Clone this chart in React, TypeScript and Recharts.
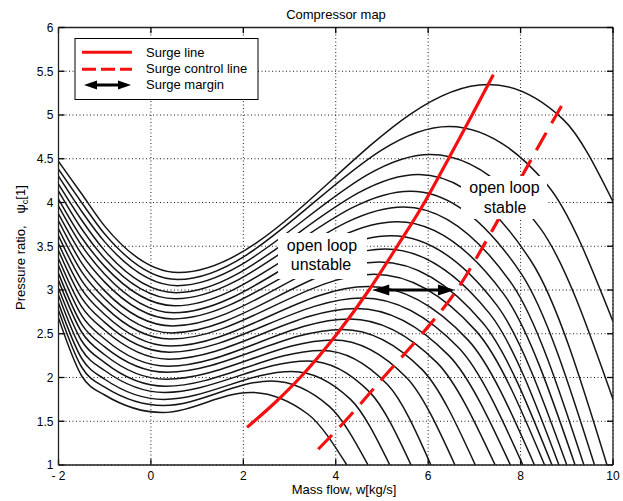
import React from "react";
import { CartesianGrid, Line, LineChart, ReferenceLine, XAxis, YAxis } from "recharts";

const xTicks = [-2, 0, 2, 4, 6, 8, 10];
const xTickLabels = ["- 2", "0", "2", "4", "6", "8", "10"];
const yTicks = [1, 1.5, 2, 2.5, 3, 3.5, 4, 4.5, 5, 5.5, 6];
const yTickLabels = ["1", "1.5", "2", "2.5", "3", "3.5", "4", "4.5", "5", "5.5", "6"];

// speed lines, from the lowest (index 0) to the highest (index 21)
const psiAtMinus2 = [2.68, 2.77, 2.85, 2.94, 3.02, 3.11, 3.19, 3.28, 3.36, 3.45, 3.53, 3.62, 3.7, 3.79, 3.87, 3.96, 4.04, 4.13, 4.21, 4.3, 4.38, 4.47];
const psiAtMinus15 = [2.02, 2.12, 2.22, 2.32, 2.42, 2.52, 2.61, 2.71, 2.81, 2.91, 3.01, 3.11, 3.21, 3.31, 3.41, 3.51, 3.6, 3.7, 3.8, 3.9, 4.0, 4.1];
const psiAtMinus1 = [1.8, 1.89, 1.98, 2.08, 2.17, 2.26, 2.35, 2.44, 2.54, 2.63, 2.72, 2.81, 2.9, 2.99, 3.09, 3.18, 3.27, 3.36, 3.45, 3.55, 3.64, 3.73];
const minX = [0.25, 0.27, 0.28, 0.3, 0.32, 0.33, 0.35, 0.37, 0.38, 0.4, 0.42, 0.43, 0.45, 0.47, 0.48, 0.5, 0.52, 0.53, 0.55, 0.57, 0.58, 0.6];
const minPsi = [1.6, 1.68, 1.75, 1.83, 1.9, 1.98, 2.06, 2.13, 2.21, 2.29, 2.36, 2.44, 2.51, 2.59, 2.67, 2.74, 2.82, 2.9, 2.97, 3.05, 3.12, 3.2];
const peakX = [2.15, 2.6, 3.05, 3.4, 3.7, 3.95, 4.15, 4.3, 4.45, 4.58, 4.7, 4.83, 4.95, 5.07, 5.2, 5.33, 5.47, 5.62, 5.8, 6.05, 6.45, 7.3];
const peakPsi = [1.83, 1.96, 2.07, 2.19, 2.31, 2.43, 2.55, 2.67, 2.79, 2.91, 3.04, 3.18, 3.32, 3.47, 3.62, 3.78, 3.95, 4.13, 4.32, 4.55, 4.87, 5.35];
const fallX = [3.4, 3.86, 4.32, 4.74, 5.12, 5.53, 5.87, 6.19, 6.45, 6.66, 6.86, 7.04, 7.19, 7.33, 7.48, 7.64, 7.81, 8.01, 8.24, 8.42, 8.58, 8.92];
const fallPsi = [1.58, 1.67, 1.75, 1.83, 1.92, 2.0, 2.09, 2.17, 2.25, 2.34, 2.43, 2.53, 2.62, 2.73, 2.83, 2.95, 3.07, 3.19, 3.32, 3.71, 4.2, 4.95];
const endX = [4.24, 4.7, 5.17, 5.63, 6.06, 6.58, 7.02, 7.45, 7.78, 8.05, 8.3, 8.52, 8.68, 8.83, 9.0, 9.18, 9.37, 9.6, 9.87, 10, 10, 10];
const endPsi = [1, 1, 1, 1, 1, 1, 1, 1, 1, 1, 1, 1, 1, 1, 1, 1, 1, 1, 1, 1.75, 2.64, 4.01];

const surgeX = [2.08, 2.7, 3.23, 4.03, 4.72, 5.33, 5.92, 6.44, 6.95, 7.41];
const surgeY = [1.43, 1.72, 2.0, 2.5, 3.0, 3.5, 4.0, 4.5, 5.0, 5.46];
const controlX = [3.62, 4.2, 5.03, 5.87, 6.62, 7.3, 8.27, 9.0];
const controlY = [1.18, 1.5, 2.0, 2.5, 3.0, 3.6, 4.53, 5.21];
const marginX = [4.79, 6.58];
const marginY = [3.0, 3.0];

const font = '"Liberation Sans", Arial, Helvetica, sans-serif';
const RED = "#f41010";

const speedLines = peakX.map((_, i) => [
  { x: -2, y: psiAtMinus2[i] },
  { x: -1.5, y: psiAtMinus15[i] },
  { x: -1, y: psiAtMinus1[i] },
  { x: minX[i], y: minPsi[i] },
  { x: peakX[i], y: peakPsi[i] },
  { x: fallX[i], y: fallPsi[i] },
  { x: endX[i], y: endPsi[i] },
]);
const surgeData = surgeX.map((x, i) => ({ x, y: surgeY[i] }));
const controlData = controlX.map((x, i) => ({ x, y: controlY[i] }));

const ArrowShape = (props: any) => {
  const { x1, y1, x2, y2 } = props;
  const len = 17;
  const hw = 5.5;
  return (
    <g>
      <line x1={x1 + len - 2} y1={y1} x2={x2 - len + 2} y2={y2} stroke="#000" strokeWidth={3} />
      <polygon points={`${x1},${y1} ${x1 + len},${y1 - hw} ${x1 + len},${y1 + hw}`} fill="#000" />
      <polygon points={`${x2},${y2} ${x2 - len},${y2 - hw} ${x2 - len},${y2 + hw}`} fill="#000" />
    </g>
  );
};

const tickStyle = { fontSize: 12, fill: "#000", fontFamily: font };

export default function App() {
  return (
    <div style={{ position: "absolute", left: 0, top: 0, width: 623, height: 501, background: "#fff" }}>
      <LineChart width={623} height={501} margin={{ top: 27.5, right: 10, bottom: 6, left: 8.5 }}>
        <CartesianGrid stroke="#000" strokeDasharray="1 2.5" strokeWidth={0.9} />
        <XAxis
          dataKey="x"
          type="number"
          domain={[-2, 10]}
          ticks={xTicks}
          allowDataOverflow
          height={30}
          tickSize={0}
          tickMargin={6}
          tick={tickStyle}
          tickFormatter={(v: number) => xTickLabels[xTicks.indexOf(v)]}
          axisLine={{ stroke: "#222", strokeWidth: 1.3 }}
          interval={0}
        />
        <YAxis
          type="number"
          domain={[1, 6]}
          ticks={yTicks}
          allowDataOverflow
          width={50}
          tickSize={0}
          tickMargin={5}
          tick={tickStyle}
          tickFormatter={(v: number) => yTickLabels[yTicks.indexOf(v)]}
          axisLine={{ stroke: "#222", strokeWidth: 1.3 }}
          interval={0}
        />
        <ReferenceLine x={10} stroke="#222" strokeWidth={1.3} />
        <ReferenceLine y={6} stroke="#222" strokeWidth={1.3} />
        {xTicks.map((t) => (
          <ReferenceLine key={"xb" + t} segment={[{ x: t, y: 1 }, { x: t, y: 1.065 }]} stroke="#000" strokeWidth={1.3} />
        ))}
        {xTicks.map((t) => (
          <ReferenceLine key={"xt" + t} segment={[{ x: t, y: 6 }, { x: t, y: 5.935 }]} stroke="#000" strokeWidth={1.3} />
        ))}
        {yTicks.map((t) => (
          <ReferenceLine key={"yl" + t} segment={[{ x: -2, y: t }, { x: -1.87, y: t }]} stroke="#000" strokeWidth={1.3} />
        ))}
        {yTicks.map((t) => (
          <ReferenceLine key={"yr" + t} segment={[{ x: 10, y: t }, { x: 9.87, y: t }]} stroke="#000" strokeWidth={1.3} />
        ))}
        {speedLines.map((d, i) => (
          <Line
            key={"s" + i}
            data={d}
            dataKey="y"
            type="monotone"
            stroke="#151515"
            strokeWidth={1.5}
            dot={false}
            isAnimationActive={false}
          />
        ))}
        <Line data={surgeData} dataKey="y" type="monotone" stroke={RED} strokeWidth={3.2} dot={false} isAnimationActive={false} />
        <Line
          data={controlData}
          dataKey="y"
          type="monotone"
          stroke={RED}
          strokeWidth={3.2}
          strokeDasharray="20 11"
          dot={false}
          isAnimationActive={false}
        />
        <ReferenceLine
          segment={[{ x: marginX[0], y: marginY[0] }, { x: marginX[1], y: marginY[1] }]}
          shape={ArrowShape}
        />
      </LineChart>
      <svg width={623} height={501} style={{ position: "absolute", left: 0, top: 0, pointerEvents: "none" }} fontFamily={font}>
        <text x={336} y={19} fontSize={13} textAnchor="middle" fill="#000">Compressor map</text>
        <text x={344} y={494} fontSize={13} textAnchor="middle" fill="#000">Mass flow, w[kg/s]</text>
        <text x={25} y={310} fontSize={13} fill="#000" transform="rotate(-90 25 310)">
          Pressure ratio,
          <tspan dx={12}>ψ</tspan>
          <tspan dy={3} fontSize={9}>c</tspan>
          <tspan dy={-3}>[1]</tspan>
        </text>

        <rect x={75} y={38.5} width={183} height={61} fill="#fff" stroke="#000" strokeWidth={1} />
        <line x1={82} y1={52.3} x2={132} y2={52.3} stroke={RED} strokeWidth={3} />
        <line x1={82} y1={69.3} x2={132} y2={69.3} stroke={RED} strokeWidth={3} strokeDasharray="14 5" />
        <line x1={95} y1={85} x2={120} y2={85} stroke="#000" strokeWidth={3} />
        <polygon points="84,85 97,80.5 97,89.5" fill="#000" />
        <polygon points="131,85 118,80.5 118,89.5" fill="#000" />
        <text x={146} y={57.3} fontSize={13} fill="#000">Surge line</text>
        <text x={146} y={73.3} fontSize={13} fill="#000">Surge control line</text>
        <text x={146} y={88.6} fontSize={13} fill="#000">Surge margin</text>

        <rect x={278} y={233} width={89} height={46} fill="#fff" />
        <text x={322} y={251} fontSize={16} textAnchor="middle" fill="#000">open loop</text>
        <text x={321} y={270} fontSize={16} textAnchor="middle" fill="#000">unstable</text>
        <rect x={461} y={176} width={86} height={43} fill="#fff" />
        <text x={504.5} y={193} fontSize={16} textAnchor="middle" fill="#000">open loop</text>
        <text x={505} y={213} fontSize={16} textAnchor="middle" fill="#000">stable</text>
      </svg>
    </div>
  );
}
